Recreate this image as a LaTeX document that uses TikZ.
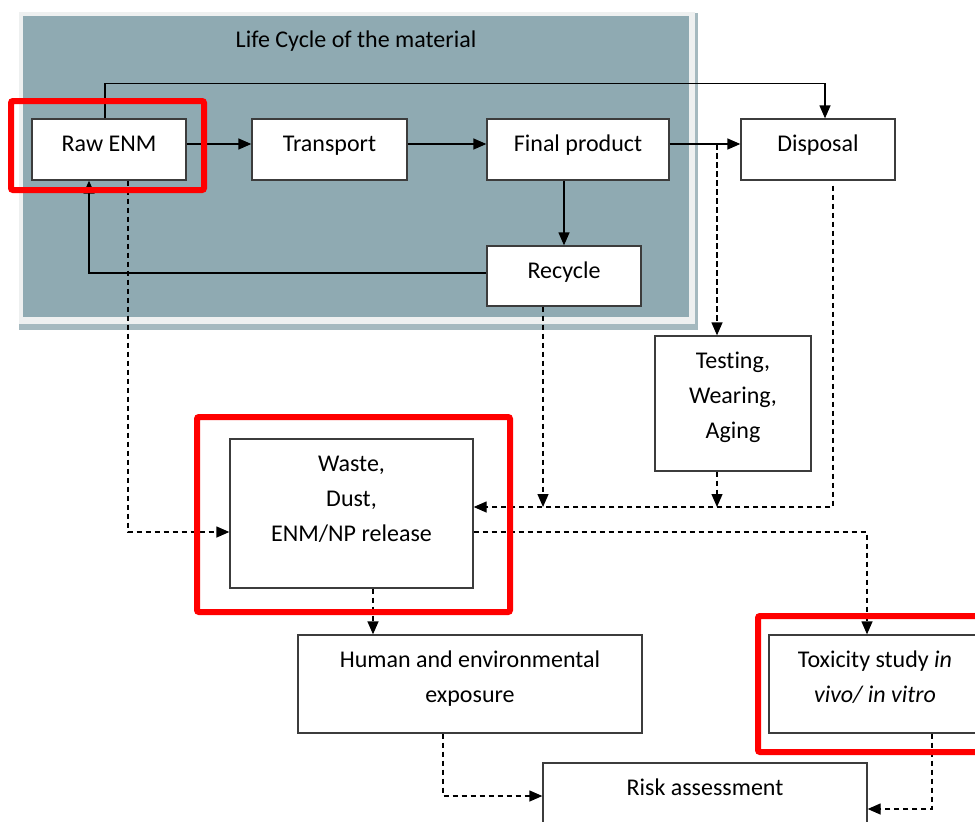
\documentclass[tikz,border=0pt]{standalone}
\usepackage{fontspec}
\setmainfont{Carlito}[Ligatures=NoCommon]
\usepackage{tikz}
\usetikzlibrary{arrows.meta,positioning,calc}

\definecolor{panelfill}{RGB}{143,170,178}
\definecolor{panelrim}{RGB}{238,240,240}
\definecolor{panelshade}{RGB}{165,185,191}
\definecolor{boxline}{RGB}{60,60,60}

\newcommand{\stagetext}[3]{\parbox[c][#2][t]{#1}{\centering\rule{0pt}{32pt}#3}}

\begin{document}
\begin{tikzpicture}[
					x = 1pt, y = -1pt,
					stage/.style = {draw = boxline, line width = 1.3pt, fill = white, inner sep = 0pt, font = \fontsize{24}{35}\selectfont},
					flow/.style = {line width = 1.3pt, -{Triangle[length=13pt,width=11pt]}},
					leak/.style = {line width = 1.3pt, dash pattern = on 5.5pt off 3.5pt, -{Triangle[length=13pt,width=11pt]}},
					highlight/.style = {draw = red, line width = 6pt, rounded corners = 2pt}
					]

					\useasboundingbox (0,0) rectangle (975,822);
					\clip (0,0) rectangle (975,822);

					\fill[panelshade] (19,13) rectangle (698,330);
					\fill[panelrim] (19,12) rectangle (695,324);
					\fill[panelfill] (23,16) rectangle (689,317);
					\node[font = \fontsize{24}{35}\selectfont, anchor = base] (title) at (356,47) {Life Cycle of the material};

					\node[stage] (raw) at (109,149.5) {\stagetext{154pt}{61pt}{Raw ENM}};
					\node[stage] (trans) at (329.5,149.5) {\stagetext{155pt}{61pt}{Transport}};
					\node[stage] (final) at (578,149.5) {\stagetext{182pt}{61pt}{Final product}};
					\node[stage] (disp) at (818,149.5) {\stagetext{154pt}{61pt}{Disposal}};
					\node[stage] (recyc) at (564,276) {\stagetext{154pt}{60pt}{Recycle}};
					\node[stage] (test) at (733,403.5) {\stagetext{156pt}{135pt}{Testing,\\Wearing,\\Aging}};
					\node[stage] (waste) at (351.5,513.5) {\stagetext{243pt}{149pt}{Waste,\\Dust,\\ENM/NP release}};
					\node[stage] (human) at (470,684) {\stagetext{344pt}{98pt}{Human and environmental\\exposure}};
					\node[stage] (tox) at (875,684) {\stagetext{212pt}{98pt}{Toxicity study \textit{in}\\\textit{vivo/ in vitro}}};
					\node[stage] (risk) at (705,812) {\stagetext{324pt}{98pt}{Risk assessment}};

					\coordinate (mainline) at (0,144);
					\coordinate (split) at (717,144);
					\coordinate (gather) at (0,507);
					\coordinate (spread) at (0,532);

					\draw[flow] (raw.east |- mainline) -- (trans.west |- mainline);
					\draw[flow] (trans.east |- mainline) -- (final.west |- mainline);
					\draw[flow] (final.east |- mainline) -- (disp.west |- mainline);
					\draw[flow] ([xshift=-4pt]raw.north) -- ++(0,-35) -| ([xshift=7pt]disp.north);
					\draw[flow] (recyc.north |- final.south) -- (recyc.north);
					\draw[flow] ([yshift=3pt]recyc.west) -| ([xshift=-20pt]raw.south);

					\draw[leak] ([xshift=19pt]raw.south) |- (waste.west |- spread);
					\draw[leak] (split) -- (split |- test.north);
					\draw[leak] ([xshift=-21pt]recyc.south) -- ([xshift=-21pt]recyc.south |- gather);
					\draw[leak] (split |- test.south) -- (split |- gather);
					\draw[leak] ([xshift=15pt,yshift=-5pt]disp.south) |- (waste.east |- gather);
					\draw[leak] (waste.east |- spread) -| ([xshift=-8pt]tox.north);
					\draw[leak] ([xshift=21.5pt]waste.south) -- ([xshift=21.5pt]waste.south |- human.north);
					\draw[leak] ([xshift=-27pt]human.south) |- ([yshift=16pt]risk.west);
					\draw[leak] ([xshift=57pt]tox.south) |- ([yshift=3pt]risk.east);

					\draw[highlight] (11,101) rectangle (204,190);
					\draw[highlight] (197,417) rectangle (510,612);
					\draw[highlight] (758,616) rectangle (990,752);

				\end{tikzpicture}
\end{document}
